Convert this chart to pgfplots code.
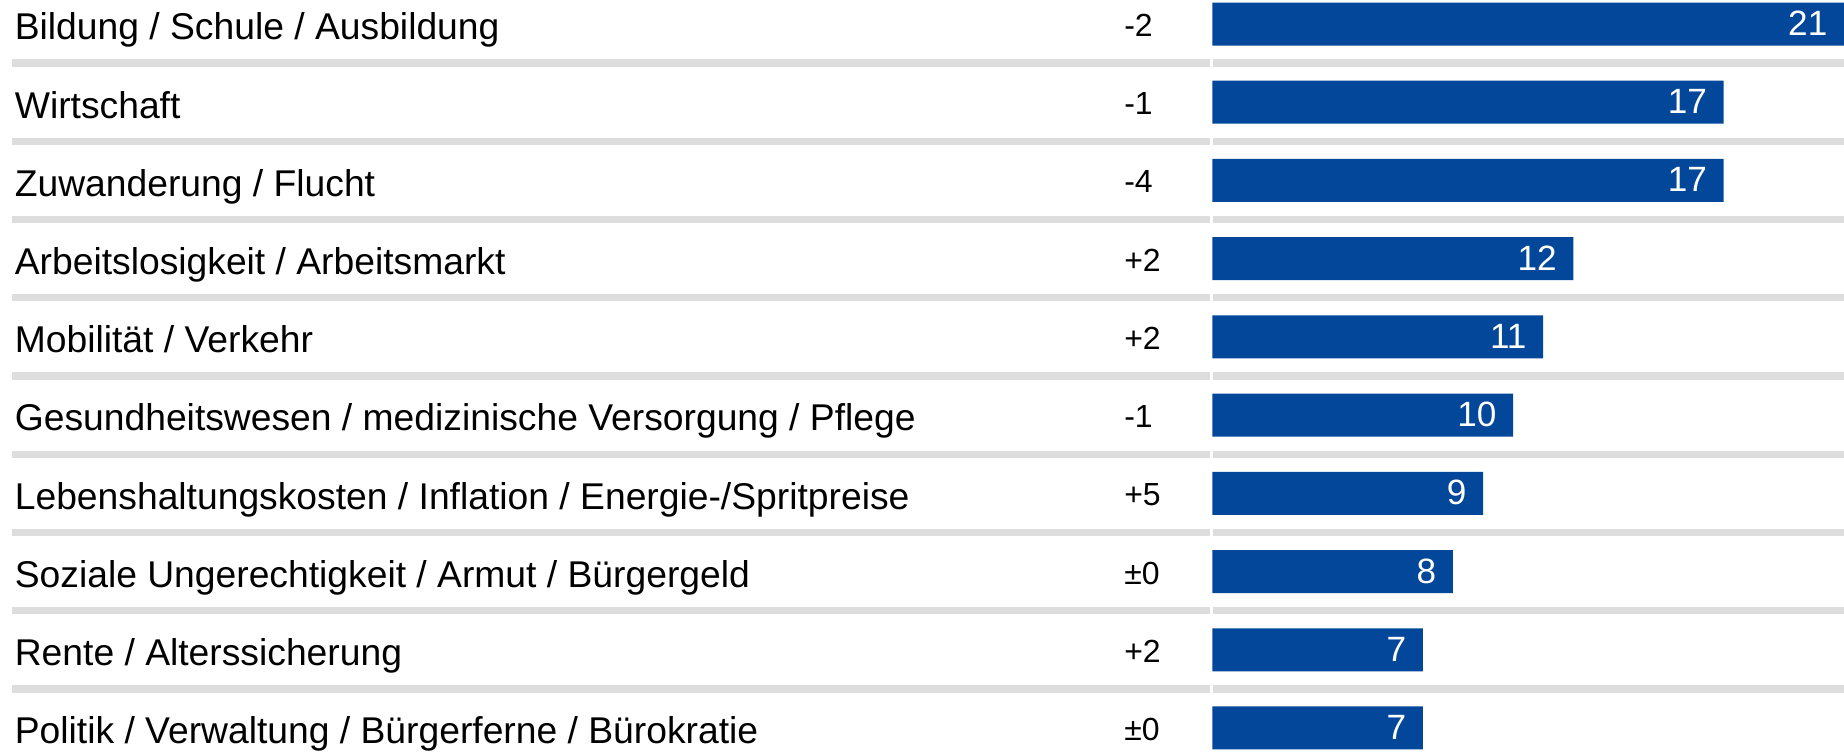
\documentclass[border=0pt]{standalone}
\usepackage{fontspec}
\setmainfont{Liberation Sans}
\usepackage{pgfplots}
\usepackage{pgfplotstable}
\pgfplotsset{compat=1.18}

\definecolor{barblue}{RGB}{3,71,155}
\definecolor{sepgray}{RGB}{221,221,221}

\pgfplotstableread[col sep=semicolon]{
label;change;value
Bildung / Schule / Ausbildung;-2;21
Wirtschaft;-1;17
Zuwanderung / Flucht;-4;17
Arbeitslosigkeit / Arbeitsmarkt;+2;12
Mobilität / Verkehr;+2;11
Gesundheitswesen / medizinische Versorgung / Pflege;-1;10
Lebenshaltungskosten / Inflation / Energie-/Spritpreise;+5;9
Soziale Ungerechtigkeit / Armut / Bürgergeld;±0;8
Rente / Alterssicherung;+2;7
Politik / Verwaltung / Bürgerferne / Bürokratie;±0;7
}\datatable

\begin{document}
\begin{tikzpicture}
\begin{axis}[
    name=ax,
    width=18.44cm, height=7.52cm, scale only axis,
    xmin=-40.3, xmax=21,
    ymin=-0.307, ymax=9.307,
    y dir=reverse,
    axis lines=none,
    clip=false,
    /pgf/number format/assume math mode=true,
    every node near coord/.append style={inner sep=0pt},
]
    % separators
    \pgfplotsinvokeforeach{0.5,1.5,2.5,3.5,4.5,5.5,6.5,7.5,8.5}{
        \draw[sepgray, line width=0.73mm] (axis cs:-39.9,#1) -- (axis cs:-0.08,#1);
        \draw[sepgray, line width=0.73mm] (axis cs:0.02,#1) -- (axis cs:21,#1);
    }

    % bars
    \addplot[xbar, bar width=4.3mm, fill=barblue, draw=none,
        nodes near coords, point meta=x,
        nodes near coords style={white, font=\fontsize{10}{12}\selectfont,
            anchor=base east, xshift=-1.6mm, yshift=-1.15mm}]
        table[x=value, y expr=\coordindex] {\datatable};

    % category names
    \addplot[only marks, mark=none,
        nodes near coords, point meta=explicit symbolic,
        nodes near coords style={black, font=\fontsize{10.6}{12}\selectfont,
            anchor=base west, yshift=-1.58mm}]
        table[x expr=-39.83, y expr=\coordindex, meta=label] {\datatable};

    % change column
    \addplot[only marks, mark=none,
        nodes near coords, point meta=explicit symbolic,
        nodes near coords style={black, font=\fontsize{9.1}{11}\selectfont,
            anchor=base west, yshift=-1.25mm}]
        table[x expr=-2.95, y expr=\coordindex, meta=change] {\datatable};
\end{axis}
% picture is exactly the axis area
\pgfresetboundingbox
\path (ax.south west) rectangle (ax.north east);
\end{tikzpicture}
\end{document}
